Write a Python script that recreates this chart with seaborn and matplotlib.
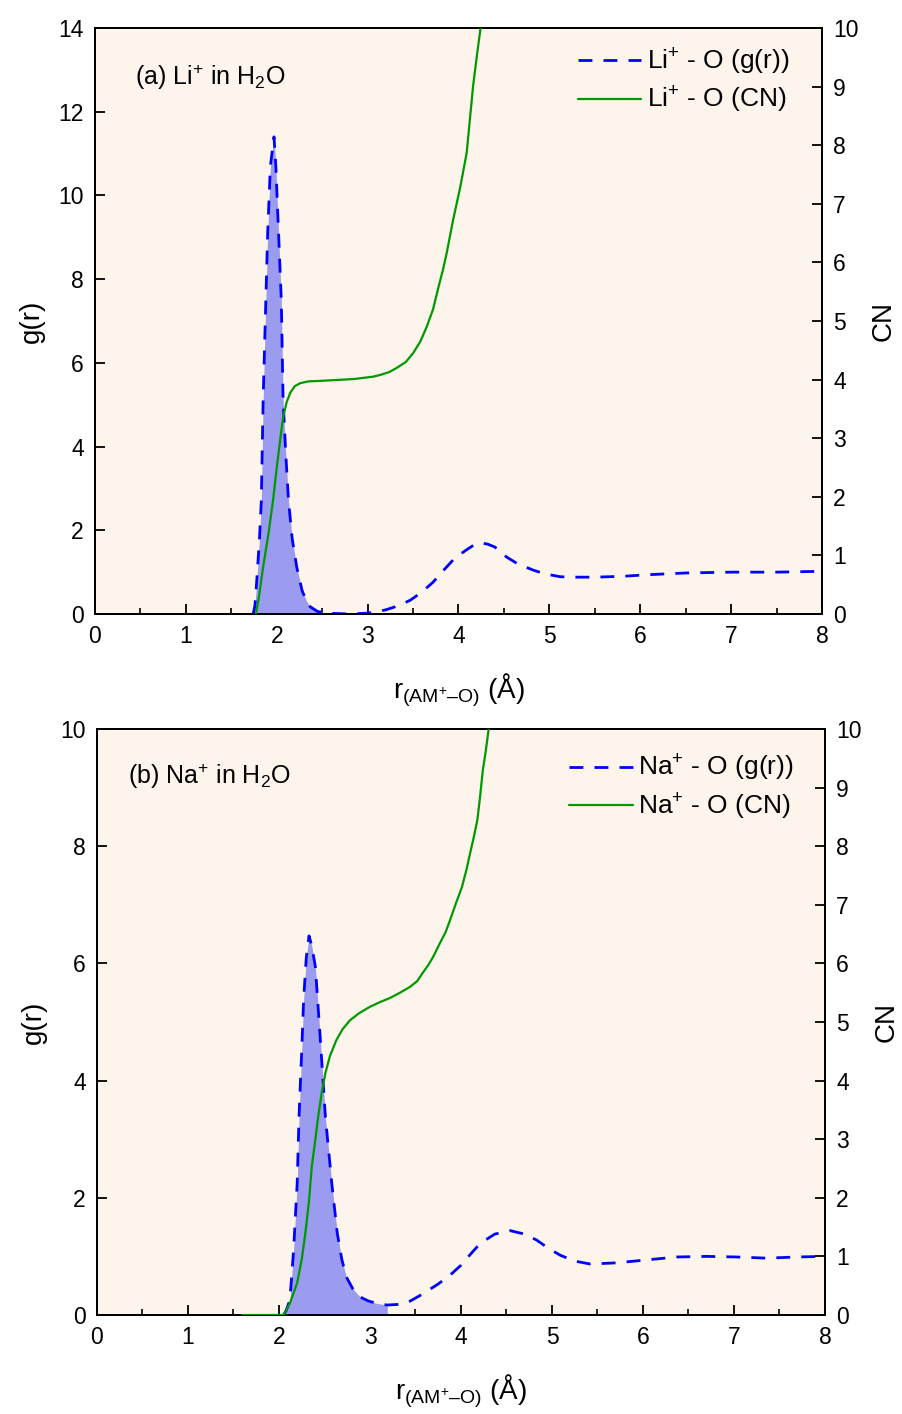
import numpy as np
import pandas as pd
import matplotlib
matplotlib.use("Agg")
import matplotlib.pyplot as plt
import seaborn as sns

# ---- Li+ in H2O -------------------------------------------------------------
li_r = [1.74, 1.76, 1.78, 1.81, 1.83, 1.84, 1.85, 1.88, 1.90, 1.93, 1.97,
        1.99, 2.02, 2.05, 2.07, 2.10, 2.13, 2.17, 2.22, 2.28, 2.33, 2.37, 2.45,
        2.55, 2.80, 3.00, 3.10, 3.20, 3.30, 3.40, 3.47, 3.60, 3.72, 3.83, 3.94,
        4.02, 4.10, 4.17, 4.24, 4.32, 4.40, 4.53, 4.65, 4.82, 4.95, 5.12, 5.30,
        5.50, 5.80, 6.10, 6.50, 7.00, 7.50, 8.00]
li_g = [0.0, 0.2, 0.8, 1.8, 2.7, 3.9, 5.1, 7.5, 9.1, 10.7, 11.4,
        10.7, 9.1, 7.5, 5.1, 3.8, 2.7, 1.8, 1.12, 0.55, 0.30, 0.17, 0.06,
        0.02, 0.0, 0.02, 0.05, 0.10, 0.17, 0.26, 0.33, 0.53, 0.76, 1.03, 1.29,
        1.43, 1.55, 1.65, 1.70, 1.67, 1.60, 1.36, 1.20, 1.05, 0.96, 0.89, 0.88,
        0.88, 0.90, 0.94, 0.98, 1.00, 1.00, 1.02]
li_cn_r = [1.77, 1.80, 1.85, 1.91, 1.96, 2.00, 2.04, 2.07, 2.11, 2.15, 2.20,
           2.26, 2.35, 2.50, 2.62, 2.85, 3.06, 3.14, 3.24, 3.32, 3.42, 3.50,
           3.58, 3.65, 3.72, 3.78, 3.83, 3.87, 3.94, 4.02, 4.09, 4.16, 4.20,
           4.24, 4.28]
li_cn = [0.0, 0.25, 0.8, 1.38, 1.95, 2.5, 3.0, 3.36, 3.62, 3.78, 3.89,
         3.94, 3.97, 3.98, 3.99, 4.01, 4.05, 4.08, 4.13, 4.20, 4.30, 4.45,
         4.65, 4.90, 5.20, 5.58, 5.88, 6.16, 6.72, 7.29, 7.87, 9.0, 9.5,
         9.97, 10.6]
li_shell_end = 2.55

# ---- Na+ in H2O -------------------------------------------------------------
na_r = [2.05, 2.08, 2.12, 2.16, 2.20, 2.22, 2.25, 2.27, 2.30, 2.33, 2.36, 2.40,
        2.45, 2.51, 2.58, 2.64, 2.69, 2.74, 2.81, 2.89, 2.98, 3.07, 3.19, 3.30,
        3.41, 3.58, 3.75, 3.88, 4.00, 4.10, 4.21, 4.37, 4.54, 4.70, 4.83, 4.95,
        5.09, 5.25, 5.42, 5.71, 6.04, 6.37, 6.70, 7.03, 7.36, 7.69, 8.00]
na_g = [0.0, 0.08, 0.26, 1.1, 2.25, 3.38, 4.52, 5.37, 6.1, 6.47, 6.3, 5.94,
        4.8, 3.38, 2.25, 1.4, 0.95, 0.65, 0.45, 0.31, 0.24, 0.20, 0.17, 0.18,
        0.21, 0.36, 0.53, 0.68, 0.85, 1.03, 1.22, 1.38, 1.44, 1.38, 1.28, 1.15,
        1.02, 0.92, 0.87, 0.89, 0.94, 0.99, 1.00, 0.99, 0.97, 0.99, 1.00]
na_cn_r = [1.60, 2.05, 2.12, 2.20, 2.25, 2.29, 2.33, 2.36, 2.40, 2.43, 2.47,
           2.51, 2.56, 2.63, 2.70, 2.78, 2.88, 3.00, 3.11, 3.22, 3.33, 3.44,
           3.52, 3.58, 3.64, 3.69, 3.77, 3.83, 3.88, 3.95, 4.01, 4.06, 4.10,
           4.14, 4.18, 4.21, 4.24, 4.27, 4.30, 4.34]
na_cn = [0.0, 0.0, 0.2, 0.55, 0.95, 1.4, 1.95, 2.53, 3.0, 3.38, 3.8,
         4.13, 4.42, 4.69, 4.88, 5.03, 5.15, 5.26, 5.34, 5.41, 5.50, 5.60,
         5.70, 5.84, 5.97, 6.10, 6.35, 6.53, 6.74, 7.05, 7.30, 7.60, 7.88,
         8.15, 8.45, 8.85, 9.30, 9.60, 9.95, 10.5]
na_shell_end = 3.19

panels = [
    dict(r=li_r, g=li_g, cn_r=li_cn_r, cn=li_cn, shell=li_shell_end,
         ion="Li", tag="(a)", gmax=14, gticks=np.arange(0, 15, 2),
         rect=[95 / 903, 1 - 614 / 1414, 727 / 903, 586 / 1414],
         tag_xy=(0.055, 0.915), leg_xy=(0.955, 0.968)),
    dict(r=na_r, g=na_g, cn_r=na_cn_r, cn=na_cn, shell=na_shell_end,
         ion="Na", tag="(b)", gmax=10, gticks=np.arange(0, 11, 2),
         rect=[97 / 903, 1 - 1315 / 1414, 728 / 903, 586 / 1414],
         tag_xy=(0.043, 0.92), leg_xy=(0.957, 0.959)),
]

sns.set_style("ticks")
plt.rcParams["font.family"] = ["Liberation Sans", "DejaVu Sans"]
plt.rcParams["mathtext.fontset"] = "custom"
plt.rcParams["mathtext.rm"] = "Liberation Sans"
plt.rcParams["mathtext.it"] = "Liberation Sans:italic"
plt.rcParams["mathtext.default"] = "regular"
plt.rcParams["text.color"] = "black"
plt.rcParams["axes.labelcolor"] = "black"
plt.rcParams["xtick.color"] = "black"
plt.rcParams["ytick.color"] = "black"
plt.rcParams["axes.edgecolor"] = "black"

BG = "#fdf5ec"
BLUE = "#0000ff"
GREEN = "#009900"
FILL = "#9b9bf0"

fig = plt.figure(figsize=(9.03, 14.14), dpi=100)

for p in panels:
    ax = fig.add_axes(p["rect"])
    ax.set_facecolor(BG)
    df_g = pd.DataFrame({"r": p["r"], "g": p["g"]})
    df_cn = pd.DataFrame({"r": p["cn_r"], "cn": p["cn"]})
    shell = df_g[df_g["r"] <= p["shell"] + 1e-9]

    # shaded first coordination shell
    ax.fill_between(shell["r"], 0, shell["g"], color=FILL, lw=0, zorder=1)
    sns.lineplot(data=df_g, x="r", y="g", ax=ax, color=BLUE, lw=2.0,
                 sort=False, estimator=None, zorder=3,
                 label=f"{p['ion']}$^{{+}}$ - O (g(r))")
    gline = ax.lines[-1]
    gline.set_dashes((5, 4))

    ax2 = ax.twinx()
    sns.lineplot(data=df_cn, x="r", y="cn", ax=ax2, color=GREEN, lw=1.6,
                 sort=False, estimator=None, zorder=3,
                 label=f"{p['ion']}$^{{+}}$ - O (CN)")
    cline = ax2.lines[-1]

    ax.set_xlim(0, 8)
    ax.set_ylim(0, p["gmax"])
    ax2.set_ylim(0, 10)
    ax.set_xticks(range(0, 9))
    ax.set_xticks(np.arange(0.5, 8, 1.0), minor=True)
    ax.set_yticks(p["gticks"])
    ax2.set_yticks(range(0, 11))

    ax.tick_params(axis="both", which="major", direction="in", length=7,
                   width=1.3, labelsize=16.5, pad=8, top=False, right=False)
    ax.tick_params(axis="x", which="minor", direction="in", length=4,
                   width=1.2, top=False)
    ax2.tick_params(axis="y", which="major", direction="in", length=7,
                    width=1.3, labelsize=16.5, pad=8)
    for a in (ax, ax2):
        for s in a.spines.values():
            s.set_visible(True)
            s.set_linewidth(1.4)
            s.set_color("black")

    ax.set_xlabel(r"r$_{(AM^{+}–O)}$ (Å)", fontsize=20, labelpad=17)
    ax.set_ylabel("g(r)", fontsize=20, labelpad=10)
    ax2.set_ylabel("CN", fontsize=20, labelpad=9)

    ax.text(p["tag_xy"][0], p["tag_xy"][1],
            f"{p['tag']} {p['ion']}$^{{+}}$ in H$_{{2}}$O",
            transform=ax.transAxes, fontsize=18, va="center", ha="left")

    if ax.get_legend() is not None:
        ax.get_legend().remove()
    ax2.legend(handles=[gline, cline],
               labels=[gline.get_label(), cline.get_label()],
               loc="upper right", bbox_to_anchor=p["leg_xy"], frameon=False,
               fontsize=19, handlelength=2.4, handletextpad=0.2,
               labelspacing=0.3, borderpad=0.0, borderaxespad=0.0)

fig.savefig("out.png", dpi=100, facecolor="white")
